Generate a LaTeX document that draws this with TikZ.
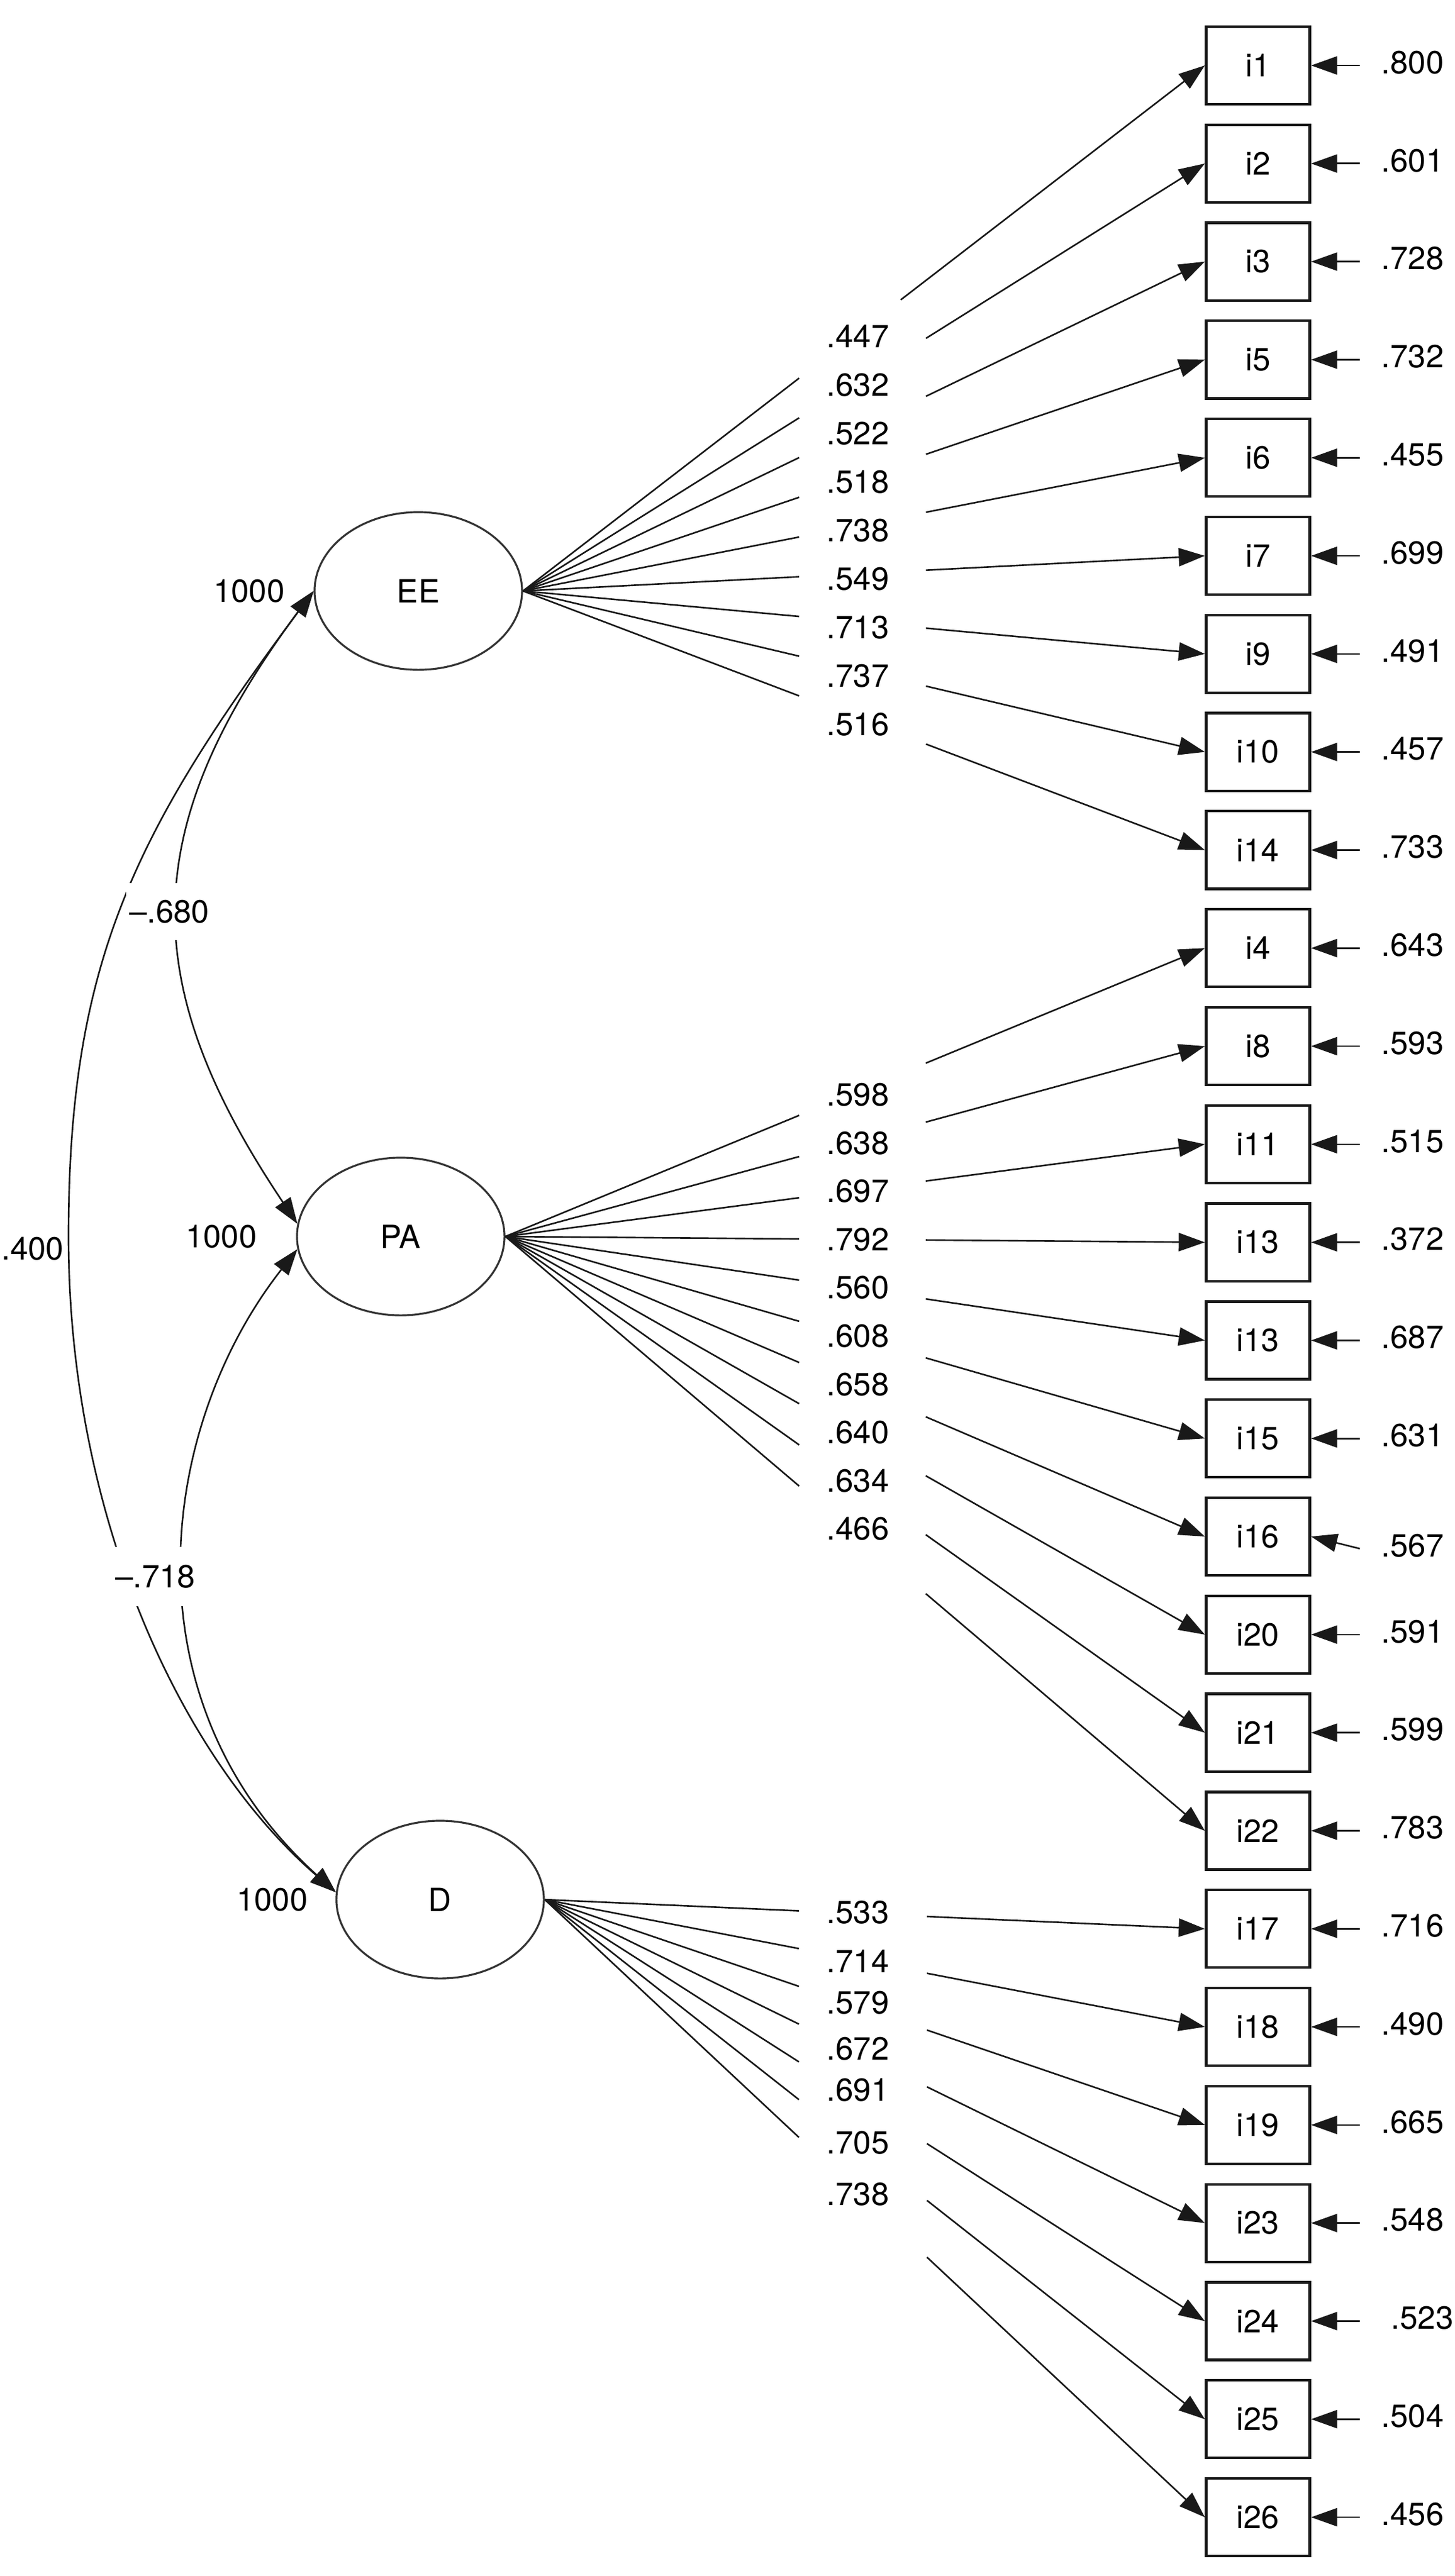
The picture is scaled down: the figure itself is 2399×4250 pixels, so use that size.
\documentclass[tikz,border=0pt]{standalone}
\usepackage{fontspec}
\setmainfont{TeX Gyre Heros}
\usetikzlibrary{positioning,calc,arrows.meta,shapes.geometric}

\begin{document}
\begin{tikzpicture}[x=0.01cm,y=-0.01cm,
  font=\fontsize{15}{17}\selectfont,
  >={Triangle[length=0.43cm,width=0.3cm]},
  latent/.style={ellipse,draw=black!80,line width=0.9pt,minimum width=3.42cm,minimum height=2.6cm,inner sep=0pt},
  item/.style={rectangle,draw=black!90,line width=1.2pt,minimum width=1.71cm,minimum height=1.28cm,inner sep=0pt},
  link/.style={black!90,line width=0.75pt},
  num/.style={inner sep=0pt}]
\useasboundingbox (0,0) rectangle (2399,4250);

% factors
\node[latent] (EE) at (690,975) {EE};
\node[latent] (PA) at (661,2040) {PA};
\node[latent] (D) at (726,3134) {D};
\node[num,left=0.47cm of EE] (EEvar) {1000};
\node[num,left=0.64cm of PA] (PAvar) {1000};
\node[num,left=0.45cm of D] (Dvar) {1000};

% items with residuals
\foreach \k/\txt/\res/\dy/\dx in {0/i1/.800/0/0,1/i2/.601/0/0,2/i3/.728/0/0,3/i5/.732/0/0,
  4/i6/.455/0/0,5/i7/.699/0/0,6/i9/.491/0/0,7/i10/.457/0/0,8/i14/.733/0/0,
  9/i4/.643/0/0,10/i8/.593/0/0,11/i11/.515/0/0,12/i13/.372/0/0,13/i13/.687/0/0,
  14/i15/.631/0/0,15/i16/.567/20/0,16/i20/.591/0/0,17/i21/.599/0/0,18/i22/.783/0/0,
  19/i17/.716/0/0,20/i18/.490/0/0,21/i19/.665/0/0,22/i23/.548/0/0,23/i24/.523/0/16,
  24/i25/.504/0/0,25/i26/.456/0/0}{
  \node[item] (b\k) at (2075,{108+\k*161.8}) {\txt};
  \coordinate (r\k) at (2243,{108+\k*161.8+\dy});
  \node[num,anchor=west] (e\k) at ({2278+\dx},{103+\k*161.8+\dy}) {\res};
  \draw[link,->] (r\k) -- (b\k.east);
}

% loadings EE
\foreach \k/\load/\ly/\rt in {0/.447/555/0.554,1/.632/635/0.591,2/.522/715/0.591,
  3/.518/795/0.591,4/.738/875/0.591,5/.549/955/0.591,6/.713/1035/0.591,
  7/.737/1115/0.591,8/.516/1195/0.591}{
  \node[num,anchor=west] (l\k) at (1363,\ly) {\load};
  \draw[link] (EE.east) -- ($(EE.east)!0.405!(b\k.west)$);
  \draw[link,->] ($(EE.east)!\rt!(b\k.west)$) -- (b\k.west);
}

% loadings PA
\foreach \k/\load/\ly in {9/.598/1806,10/.638/1886,11/.697/1965,12/.792/2045,
  13/.560/2124,14/.608/2204,15/.658/2284,16/.640/2363,17/.634/2443,18/.466/2522}{
  \node[num,anchor=west] (l\k) at (1363,\ly) {\load};
  \draw[link] (PA.east) -- ($(PA.east)!0.420!(b\k.west)$);
  \draw[link,->] ($(PA.east)!0.601!(b\k.west)$) -- (b\k.west);
}

% loadings D
\foreach \k/\load/\ly in {19/.533/3155,20/.714/3236,21/.579/3304,22/.672/3380,
  23/.691/3448,24/.705/3535,25/.738/3620}{
  \node[num,anchor=west] (l\k) at (1363,\ly) {\load};
  \draw[link] (D.east) -- ($(D.east)!0.385!(b\k.west)$);
  \draw[link,->] ($(D.east)!0.579!(b\k.west)$) -- (b\k.west);
}

% covariances
\coordinate (far) at (113,2040);
\draw[link,<->] (EE.west) .. controls (225,1368) and (225,1623) .. (PA.173);
\draw[link,<->] (EE.west) .. controls (220,1375) and (113,1590) .. (far)
  .. controls (113,2490) and (290,2893) .. (D.176);
\draw[link,<->] (PA.187) .. controls (262,2352) and (202,2804) .. (D.176);
\node[num,fill=white,inner xsep=0.05cm,inner ysep=0.28cm] (cEEPA) at (279,1504) {–.680};
\node[num,anchor=east] (cEED) at (106,2060) {.400};
\node[num,fill=white,inner xsep=0.05cm,inner ysep=0.3cm] (cPAD) at (256,2601) {–.718};
\end{tikzpicture}
\end{document}
